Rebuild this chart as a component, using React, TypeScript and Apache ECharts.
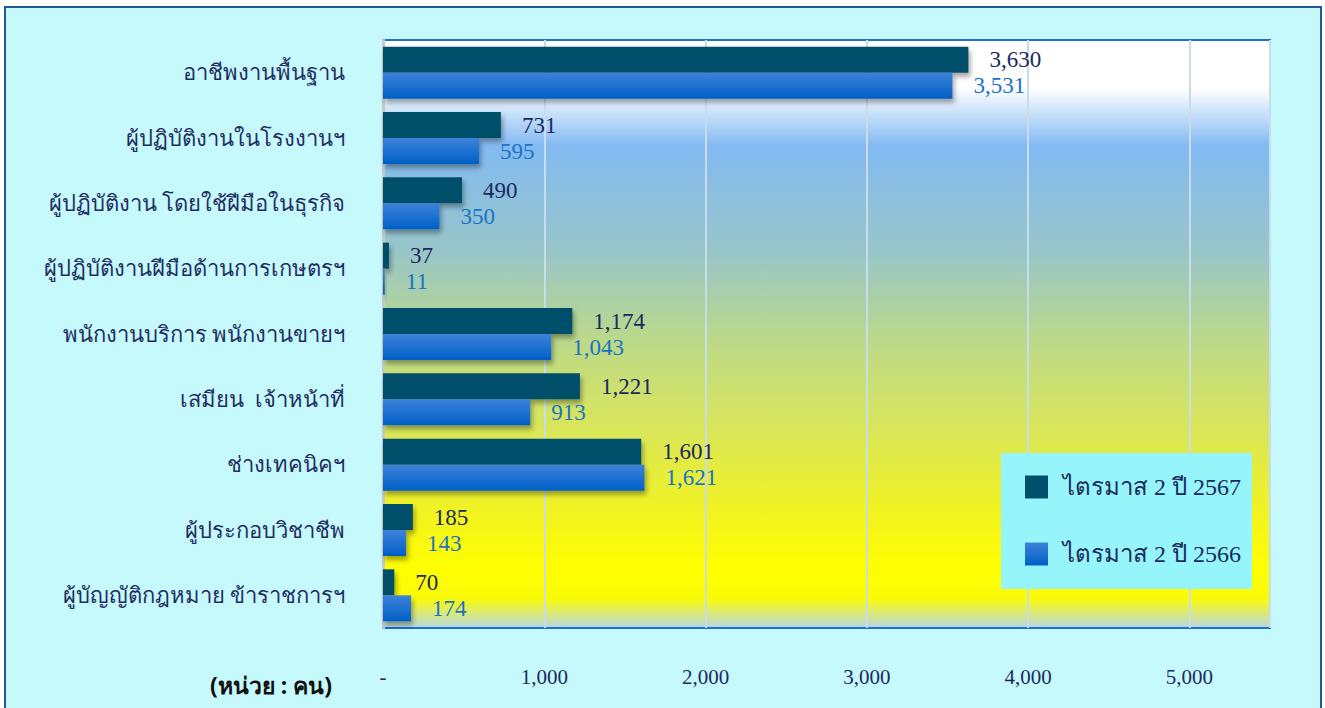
import React, { useEffect, useRef } from "react";
import * as echarts from "echarts";

const categories = [
  "อาชีพงานพื้นฐาน",
  "ผู้ปฏิบัติงานในโรงงานฯ",
  "ผู้ปฏิบัติงาน โดยใช้ฝีมือในธุรกิจ",
  "ผู้ปฏิบัติงานฝีมือด้านการเกษตรฯ",
  "พนักงานบริการ พนักงานขายฯ",
  "เสมียน  เจ้าหน้าที่",
  "ช่างเทคนิคฯ",
  "ผู้ประกอบวิชาชีพ",
  "ผู้บัญญัติกฎหมาย ข้าราชการฯ",
];
const series2567 = [3630, 731, 490, 37, 1174, 1221, 1601, 185, 70];
const series2566 = [3531, 595, 350, 11, 1043, 913, 1621, 143, 174];
const seriesNames = ["ไตรมาส 2 ปี 2567", "ไตรมาส 2 ปี 2566"];
const unitLabel = "(หน่วย : คน)";

const serif = "'Times New Roman', 'Liberation Serif', 'DejaVu Serif', serif";

function fmt(v: number) {
  return v.toLocaleString("en-US");
}

export default function App() {
  const ref = useRef<HTMLDivElement>(null);
  useEffect(() => {
    document.body.style.margin = "0";
    const chart = echarts.init(ref.current!, null, { renderer: "svg" });
    const shadow = {
      shadowBlur: 5,
      shadowOffsetX: 2,
      shadowOffsetY: 4,
      shadowColor: "rgba(0,0,0,0.35)",
    };
    chart.setOption({
      animation: false,
      backgroundColor: "#ffffff",
      graphic: [
        {
          type: "rect",
          z: -10,
          silent: true,
          shape: { x: 5, y: 7, width: 1316, height: 710 },
          style: { fill: "#c6f9fb", stroke: "#1f5a96", lineWidth: 2 },
        },
        {
          type: "text",
          left: 210,
          top: 673,
          style: {
            text: unitLabel,
            font: "bold 23px 'Noto Sans', 'DejaVu Sans', sans-serif",
            fill: "#111111",
          },
        },
      ],
      grid: {
        left: 383,
        top: 40,
        width: 887,
        height: 588,
        show: true,
        borderColor: "#1f6fcf",
        borderWidth: 2,
        backgroundColor: new echarts.graphic.LinearGradient(0, 0, 0, 1, [
          { offset: 0, color: "#ffffff" },
          { offset: 0.082, color: "#ffffff" },
          { offset: 0.18, color: "#82baf2" },
          { offset: 0.36, color: "#98c6c8" },
          { offset: 0.51, color: "#bcd98a" },
          { offset: 0.66, color: "#d9e65a" },
          { offset: 0.82, color: "#f4f51a" },
          { offset: 0.9, color: "#ffff00" },
          { offset: 0.95, color: "#fafa08" },
          { offset: 1, color: "#b8d8e8" },
        ]),
      },
      legend: {
        left: 1001,
        top: 453,
        orient: "vertical",
        backgroundColor: "#96f5fa",
        padding: [22, 11, 23, 24],
        itemWidth: 23,
        itemHeight: 23,
        itemGap: 43,
        icon: "rect",
        textStyle: { fontFamily: serif, fontSize: 24, color: "#1b2a5e", padding: [0, 0, 0, 10] },
        data: seriesNames,
      },
      xAxis: {
        type: "value",
        min: 0,
        max: 5500,
        interval: 1000,
        axisLine: { show: false },
        axisTick: { show: false },
        splitLine: { lineStyle: { color: "#c9dcec", width: 2 } },
        axisLabel: {
          margin: 38,
          fontFamily: serif,
          fontSize: 21,
          color: "#1b2a5e",
          formatter: (v: number) => (v === 0 ? "-" : v > 5000 ? "" : fmt(v)),
        },
      },
      yAxis: {
        type: "category",
        inverse: true,
        data: categories,
        axisLine: { show: true, lineStyle: { color: "#c8c8c8", width: 3 } },
        axisTick: { show: false },
        axisLabel: {
          margin: 38,
          fontFamily: serif,
          fontSize: 22,
          color: "#1f2d63",
        },
      },
      series: [
        {
          name: seriesNames[0],
          type: "bar",
          data: series2567,
          barWidth: 26,
          barGap: "0%",
          itemStyle: { color: "#004f6b", ...shadow },
          label: {
            show: true,
            position: "right",
            distance: 21,
            fontFamily: serif,
            fontSize: 23,
            color: "#1b2a5e",
            formatter: (p: any) => fmt(p.value),
          },
        },
        {
          name: seriesNames[1],
          type: "bar",
          data: series2566,
          barWidth: 26,
          barGap: "0%",
          itemStyle: {
            color: new echarts.graphic.LinearGradient(0, 0, 0, 1, [
              { offset: 0, color: "#3d82da" },
              { offset: 1, color: "#0060c8" },
            ]),
            ...shadow,
          },
          label: {
            show: true,
            position: "right",
            distance: 21,
            fontFamily: serif,
            fontSize: 23,
            color: "#1a73c5",
            formatter: (p: any) => fmt(p.value),
          },
        },
      ],
    });
    return () => chart.dispose();
  }, []);
  return <div ref={ref} style={{ width: 1325, height: 708 }} />;
}
